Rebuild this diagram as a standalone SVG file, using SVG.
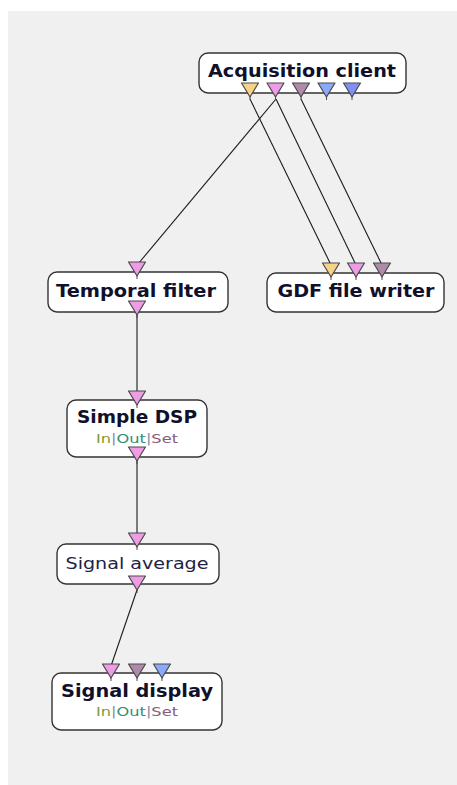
<svg xmlns="http://www.w3.org/2000/svg" width="457" height="785" viewBox="0 0 457 785">
  <style>
    .box { fill: #ffffff; stroke: #333333; stroke-width: 1.4; }
    .title { font-family: "DejaVu Sans", Verdana, sans-serif; font-weight: bold; font-size: 17px; fill: #10102a; text-anchor: middle; }
    .plain { font-family: "DejaVu Sans", Verdana, sans-serif; font-size: 16px; fill: #222244; text-anchor: middle; }
    .sub { font-family: "DejaVu Sans", Verdana, sans-serif; font-size: 13px; text-anchor: middle; }
    .in { fill: #7f9a36; }
    .out { fill: #2f8f6f; }
    .set { fill: #8a5a78; }
    .bar { fill: #8888aa; }
    .link { fill: none; stroke: #1a1a1a; stroke-width: 1.1; }
    .pin { stroke: #4a4a4a; stroke-width: 1.2; stroke-linejoin: round; }
    .stem { stroke: #4a4a4a; stroke-width: 1; }
    .c-yellow { fill: #f5d48a; }
    .c-pink { fill: #ee9ce6; }
    .c-purple { fill: #b08aaa; }
    .c-blue { fill: #8ca8f8; }
    .c-indigo { fill: #8090f0; }
  </style>
  <defs>
    <!-- connector pin stem, origin at top centre of the pin -->
    <g id="pinShape">
      <line class="stem" x1="0" y1="13" x2="0" y2="17"/>
    </g>
  </defs>

  <!-- canvas -->
  <rect x="0" y="0" width="457" height="785" fill="#ffffff"/>
  <rect x="8" y="11" width="449" height="774" fill="#f0f0f0"/>

  <!-- connectors -->
  <g id="connectors">
    <line class="link" x1="250" y1="99" x2="331" y2="265"/>
    <line class="link" x1="276" y1="99" x2="356" y2="265"/>
    <line class="link" x1="301" y1="99" x2="382" y2="265"/>
    <line class="link" x1="276" y1="99" x2="138" y2="264"/>
    <line class="link" x1="137" y1="315" x2="137" y2="393"/>
    <line class="link" x1="137" y1="461" x2="137" y2="535"/>
    <line class="link" x1="137" y1="590" x2="111" y2="666"/>
  </g>

  <!-- Acquisition client -->
  <g id="acquisition-client">
    <rect class="box" x="199" y="53" width="207" height="40" rx="9"/>
    <text class="title" x="302" y="77" textLength="188" lengthAdjust="spacingAndGlyphs">Acquisition client</text>
    <g transform="translate(250,83)"><polygon class="pin c-yellow" points="-8.5,0 8.5,0 0,14"/><use href="#pinShape"/></g>
    <g transform="translate(275.5,83)"><polygon class="pin c-pink" points="-8.5,0 8.5,0 0,14"/><use href="#pinShape"/></g>
    <g transform="translate(301,83)"><polygon class="pin c-purple" points="-8.5,0 8.5,0 0,14"/><use href="#pinShape"/></g>
    <g transform="translate(326.5,83)"><polygon class="pin c-blue" points="-8.5,0 8.5,0 0,14"/><use href="#pinShape"/></g>
    <g transform="translate(352,83)"><polygon class="pin c-indigo" points="-8.5,0 8.5,0 0,14"/><use href="#pinShape"/></g>
  </g>

  <!-- Temporal filter -->
  <g id="temporal-filter">
    <rect class="box" x="48" y="272" width="180" height="40" rx="9"/>
    <text class="title" x="136" y="297" textLength="160" lengthAdjust="spacingAndGlyphs">Temporal filter</text>
    <g transform="translate(137,262)"><polygon class="pin c-pink" points="-8.5,0 8.5,0 0,14"/><use href="#pinShape"/></g>
    <g transform="translate(137,301)"><polygon class="pin c-pink" points="-8.5,0 8.5,0 0,14"/><use href="#pinShape"/></g>
  </g>

  <!-- GDF file writer -->
  <g id="gdf-file-writer">
    <rect class="box" x="267" y="273" width="177" height="39" rx="9"/>
    <text class="title" x="356" y="297" textLength="157" lengthAdjust="spacingAndGlyphs">GDF file writer</text>
    <g transform="translate(331,263)"><polygon class="pin c-yellow" points="-8.5,0 8.5,0 0,14"/><use href="#pinShape"/></g>
    <g transform="translate(356,263)"><polygon class="pin c-pink" points="-8.5,0 8.5,0 0,14"/><use href="#pinShape"/></g>
    <g transform="translate(382,263)"><polygon class="pin c-purple" points="-8.5,0 8.5,0 0,14"/><use href="#pinShape"/></g>
  </g>

  <!-- Simple DSP -->
  <g id="simple-dsp">
    <rect class="box" x="67" y="400" width="140" height="57" rx="9"/>
    <text class="title" x="137" y="423" textLength="120" lengthAdjust="spacingAndGlyphs">Simple DSP</text>
    <text class="sub" x="137" y="443" textLength="82" lengthAdjust="spacingAndGlyphs"><tspan class="in">In</tspan><tspan class="bar">|</tspan><tspan class="out">Out</tspan><tspan class="bar">|</tspan><tspan class="set">Set</tspan></text>
    <g transform="translate(137,391)"><polygon class="pin c-pink" points="-8.5,0 8.5,0 0,14"/><use href="#pinShape"/></g>
    <g transform="translate(137,447)"><polygon class="pin c-pink" points="-8.5,0 8.5,0 0,14"/><use href="#pinShape"/></g>
  </g>

  <!-- Signal average -->
  <g id="signal-average">
    <rect class="box" x="57" y="544" width="162" height="40" rx="9"/>
    <text class="plain" x="137" y="569" textLength="143" lengthAdjust="spacingAndGlyphs">Signal average</text>
    <g transform="translate(137,533)"><polygon class="pin c-pink" points="-8.5,0 8.5,0 0,14"/><use href="#pinShape"/></g>
    <g transform="translate(137,576)"><polygon class="pin c-pink" points="-8.5,0 8.5,0 0,14"/><use href="#pinShape"/></g>
  </g>

  <!-- Signal display -->
  <g id="signal-display">
    <rect class="box" x="52" y="673" width="170" height="57" rx="9"/>
    <text class="title" x="137" y="697" textLength="152" lengthAdjust="spacingAndGlyphs">Signal display</text>
    <text class="sub" x="137" y="716" textLength="82" lengthAdjust="spacingAndGlyphs"><tspan class="in">In</tspan><tspan class="bar">|</tspan><tspan class="out">Out</tspan><tspan class="bar">|</tspan><tspan class="set">Set</tspan></text>
    <g transform="translate(111,664)"><polygon class="pin c-pink" points="-8.5,0 8.5,0 0,14"/><use href="#pinShape"/></g>
    <g transform="translate(137,664)"><polygon class="pin c-purple" points="-8.5,0 8.5,0 0,14"/><use href="#pinShape"/></g>
    <g transform="translate(162,664)"><polygon class="pin c-blue" points="-8.5,0 8.5,0 0,14"/><use href="#pinShape"/></g>
  </g>
</svg>
